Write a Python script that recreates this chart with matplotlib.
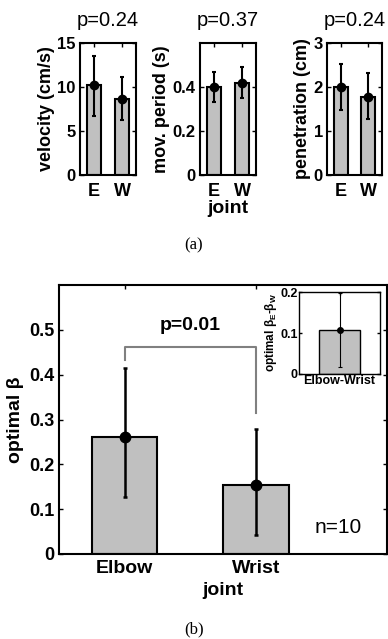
import matplotlib.pyplot as plt

plt.rcParams['font.family'] = ['Liberation Sans', 'DejaVu Sans']
plt.rcParams['mathtext.fontset'] = 'custom'
plt.rcParams['mathtext.rm'] = 'Liberation Sans:bold'
plt.rcParams['mathtext.it'] = 'Liberation Sans:bold'
plt.rcParams['mathtext.bf'] = 'Liberation Sans:bold'

# --- DATA ---
joints_short = ["E", "W"]
velocity = [10.2, 8.6]
velocity_lo = [6.7, 6.2]
velocity_hi = [13.5, 11.1]
period = [0.40, 0.42]
period_lo = [0.33, 0.35]
period_hi = [0.47, 0.49]
penetration = [2.0, 1.78]
penetration_lo = [1.47, 1.27]
penetration_hi = [2.52, 2.32]
p_top = ["p=0.24", "p=0.37", "p=0.24"]

joints = ["Elbow", "Wrist"]
beta = [0.262, 0.155]
beta_lo = [0.127, 0.042]
beta_hi = [0.415, 0.278]
diff = [0.107]
diff_lo = [0.018]
diff_hi = [0.197]

GRAY = "#c0c0c0"
W, H = 388, 639


def box(l, t, r, b):
    # pixel box -> figure fraction
    return [l / W, 1 - b / H, (r - l) / W, (b - t) / H]


def style(ax, xsize, ysize, xpad=3):
    ax.tick_params(direction="in", top=True, right=True, length=3, width=1, pad=3)
    ax.tick_params(axis="x", labelsize=xsize, pad=xpad)
    ax.tick_params(axis="y", labelsize=ysize)
    for lab in ax.get_xticklabels() + ax.get_yticklabels():
        lab.set_fontweight("bold")
    for s in ax.spines.values():
        s.set_linewidth(1.5)


def bars(ax, vals, lo, hi, width=0.5, lw=1.5, ms=8, elw=2):
    x = list(range(1, len(vals) + 1))
    ax.bar(x, vals, width=width, color=GRAY, edgecolor="black", linewidth=lw, zorder=2)
    err = [[v - l for v, l in zip(vals, lo)], [h - v for v, h in zip(vals, hi)]]
    ax.errorbar(x, vals, yerr=err, fmt="o", color="black", ms=ms, elinewidth=elw,
                capsize=1.5, capthick=elw, zorder=3)
    return x


fig = plt.figure(figsize=(W / 100, H / 100), dpi=100)

# --- (a) top panels ---
top = [
    (80, 136, velocity, velocity_lo, velocity_hi, (0, 15), [0, 5, 10, 15], ["0", "5", "10", "15"], "velocity (cm/s)"),
    (200, 256, period, period_lo, period_hi, (0, 0.6), [0, 0.2, 0.4], ["0", "0.2", "0.4"], "mov. period (s)"),
    (327, 382, penetration, penetration_lo, penetration_hi, (0, 3), [0, 1, 2, 3], ["0", "1", "2", "3"], "penetration (cm)"),
]
for i, (l, r, v, lo, hi, ylim, yt, ytl, lab) in enumerate(top):
    ax = fig.add_axes(box(l, 43, r, 175))
    x = bars(ax, v, lo, hi, ms=6, elw=1.5)
    ax.set_xlim(0.5, 2.5)
    ax.set_ylim(*ylim)
    ax.set_yticks(yt)
    ax.set_yticklabels(ytl)
    ax.set_xticks(x)
    ax.set_xticklabels(joints_short)
    style(ax, 13, 12, xpad=6)
    ax.set_ylabel(lab, fontsize=13, fontweight="bold", labelpad=2)
    ax.set_title(p_top[i], fontsize=14.5, pad=12)
    if i == 1:
        ax.set_xlabel("joint", fontsize=14, fontweight="bold", labelpad=0)

fig.text(194 / W, 1 - 245 / H, "(a)", family="Liberation Serif", fontsize=12,
         ha="center", va="center")

# --- (b) main panel ---
ax = fig.add_axes(box(59, 285, 387, 554))
x = bars(ax, beta, beta_lo, beta_hi, ms=7.5, elw=1.8)
ax.set_xlim(0.5, 3.0)
ax.set_ylim(0, 0.6)
ax.set_yticks([0, 0.1, 0.2, 0.3, 0.4, 0.5])
ax.set_yticklabels(["0", "0.1", "0.2", "0.3", "0.4", "0.5"])
ax.set_xticks(x)
ax.set_xticklabels(joints)
style(ax, 14, 13, xpad=4)
ax.set_ylabel("optimal β", fontsize=14, fontweight="bold", labelpad=4)
ax.set_xlabel("joint", fontsize=14, fontweight="bold", labelpad=4)
ax.plot([1, 1, 2, 2], [0.433, 0.462, 0.462, 0.315], color="#808080", lw=1.5, zorder=1)
ax.text(1.5, 0.51, "p=0.01", fontsize=14, fontweight="bold", ha="center", va="center")
ax.text(2.63, 0.06, "n=10", fontsize=15, ha="center", va="center")

# inset
ins = fig.add_axes(box(299, 292, 380, 374))
xi = bars(ins, diff, diff_lo, diff_hi, lw=1, ms=4, elw=0.8)
ins.set_xlim(0.5, 1.5)
ins.set_ylim(0, 0.2)
ins.set_yticks([0, 0.1, 0.2])
ins.set_yticklabels(["0", "0.1", "0.2"])
ins.set_xticks(xi)
ins.set_xticklabels(["Elbow-Wrist"])
style(ins, 9, 9)
ins.tick_params(length=2, pad=1)
for s in ins.spines.values():
    s.set_linewidth(1)
ins.set_ylabel(r"optimal $\beta_E$-$\beta_W$", fontsize=8.5, fontweight="bold", labelpad=1)

fig.text(194 / W, 1 - 629 / H, "(b)", family="Liberation Serif", fontsize=12,
         ha="center", va="center")

fig.savefig("out.png", dpi=100)
